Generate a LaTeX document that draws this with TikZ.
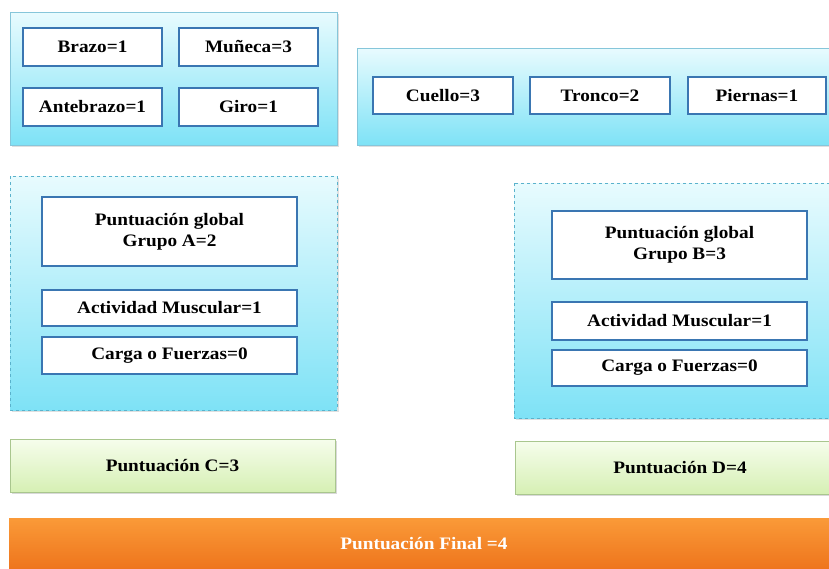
\documentclass[tikz,border=0pt]{standalone}
\usepackage{fontspec}
\setmainfont{Liberation Serif}
\newfontfamily\widefont[FakeStretch=1.1]{Liberation Serif}
\usetikzlibrary{shadows}
\definecolor{cyantop}{HTML}{E8FBFE}
\definecolor{cyanbot}{HTML}{7EE2F6}
\definecolor{outerline}{HTML}{86C6DA}
\definecolor{dashline}{HTML}{5AB2CC}
\definecolor{innerline}{HTML}{3A76B2}
\definecolor{greentop}{HTML}{F6FDEC}
\definecolor{greenbot}{HTML}{D6F0B4}
\definecolor{greenline}{HTML}{A9C68E}
\definecolor{orangetop}{HTML}{FA9A38}
\definecolor{orangebot}{HTML}{EE741C}
\tikzset{
  x=1pt, y=-1pt,
  txt/.style={font=\widefont\fontsize{17.5}{21}\selectfont\bfseries, align=center, inner sep=0pt},
  panel/.style={draw=outerline, line width=1pt, top color=cyantop, bottom color=cyanbot,
    drop shadow={shadow xshift=2pt, shadow yshift=-2pt, opacity=0.25}},
  dpanel/.style={panel, draw=dashline, dashed},
  itembox/.style={txt, draw=innerline, line width=2.2pt, fill=white},
  greenbox/.style={txt, draw=greenline, line width=1pt, top color=greentop, bottom color=greenbot,
    drop shadow={shadow xshift=2pt, shadow yshift=-2pt, opacity=0.3}},
  finalbox/.style={txt, text=white, top color=orangetop, bottom color=orangebot},
}
\begin{document}
\begin{tikzpicture}
\useasboundingbox (0,0) rectangle (829,568);
\clip (0,0) rectangle (829,568);
% top panels
\path[panel] (10,12) rectangle (337,145);
\path[panel] (357,48) rectangle (845,145);
\node[itembox, minimum width=139, minimum height=38] (brazo) at (92.5,47) {Brazo=1};
\node[itembox, minimum width=139, minimum height=38] (muneca) at (248.5,47) {Muñeca=3};
\node[itembox, minimum width=139, minimum height=38] (antebrazo) at (92.5,107) {Antebrazo=1};
\node[itembox, minimum width=139, minimum height=38] (giro) at (248.5,107) {Giro=1};
\node[itembox, minimum width=140, minimum height=37] (cuello) at (443,95.5) {Cuello=3};
\node[itembox, minimum width=140, minimum height=37] (tronco) at (600,95.5) {Tronco=2};
\node[itembox, minimum width=138, minimum height=37] (piernas) at (757,95.5) {Piernas=1};
% middle dashed panels
\path[dpanel] (10,176) rectangle (337,410);
\path[dpanel] (514,183) rectangle (845,418);
\node[itembox, minimum width=255, minimum height=69] (pga) at (169.5,231.5) {Puntuación global\\Grupo A=2};
\node[itembox, minimum width=255, minimum height=36] (ama) at (169.5,308) {Actividad Muscular=1};
\node[itembox, minimum width=255, minimum height=37] (cfa) at (169.5,355.5) {Carga o Fuerzas=0};
\node[itembox, minimum width=255, minimum height=68] (pgb) at (679.5,245) {Puntuación global\\Grupo B=3};
\node[itembox, minimum width=255, minimum height=38] (amb) at (679.5,321) {Actividad Muscular=1};
\node[itembox, minimum width=255, minimum height=36] (cfb) at (679.5,368) {Carga o Fuerzas=0};
% green boxes
\node[greenbox, minimum width=325, minimum height=53] (pc) at (172.5,465.5) {Puntuación C=3};
\node[greenbox, minimum width=330, minimum height=53] (pd) at (680,467.5) {Puntuación D=4};
% final
\node[finalbox, minimum width=830, minimum height=52] (pf) at (424,544) {Puntuación Final =4};
\end{tikzpicture}
\end{document}
